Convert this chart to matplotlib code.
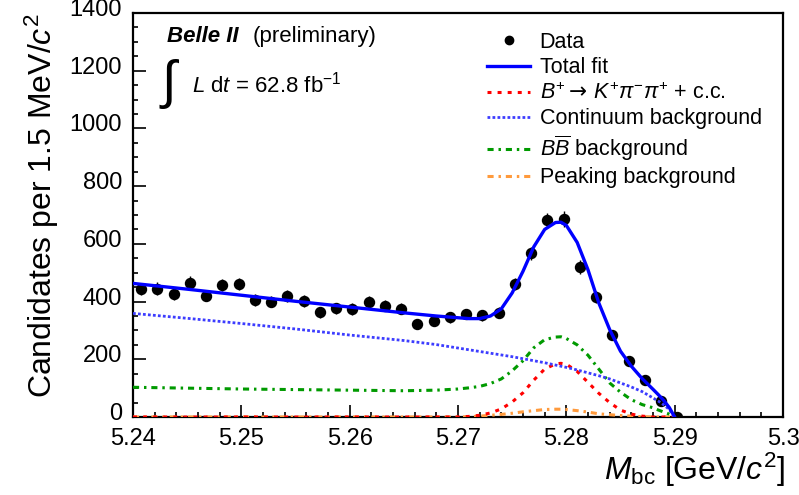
from __future__ import annotations

import numpy as np
import matplotlib

matplotlib.use("Agg")
import matplotlib.pyplot as plt
from matplotlib import transforms
from matplotlib.lines import Line2D
from matplotlib.ticker import FuncFormatter, MultipleLocator

# histogram: 1.5 MeV bins starting at 5.240 GeV
BIN_LO = 5.240
BIN_WIDTH = 0.0015
COUNTS = [443, 445, 425, 466, 421, 457, 460, 405, 400, 419, 402, 363, 377, 374,
          400, 386, 375, 323, 334, 346, 357, 353, 362, 460, 567, 682, 686, 520,
          417, 284, 194, 128, 55, 1]

# fit components
FIT_X = [5.240, 5.245, 5.250, 5.255, 5.260, 5.265, 5.268, 5.270, 5.271, 5.272,
         5.273, 5.274, 5.275, 5.276, 5.277, 5.278, 5.279, 5.2795, 5.280, 5.281,
         5.282, 5.283, 5.284, 5.285, 5.286, 5.287, 5.288, 5.2885, 5.289, 5.2895,
         5.290]
TOTAL_FIT = [463, 443, 422, 401, 381, 361, 350, 344, 341, 341,
             350, 375, 430, 505, 590, 650, 674, 675, 664, 605,
             510, 395, 303, 228, 176, 133, 96, 77, 57, 33,
             0]
CONTINUUM = [359, 342, 324, 305, 284, 265, 251, 239, 233, 227,
             221, 215, 209, 202, 195, 188, 180, 176, 172, 163,
             153, 143, 132, 118, 104, 88, 66, 55, 42, 26,
             0]
BBBAR = [103, 100, 97, 95, 93, 91, 93, 97, 101, 106,
         116, 132, 160, 195, 240, 268, 277, 278, 272, 250,
         214, 166, 118, 86, 60, 43, 32, 24, 17, 10,
         0]
SIGNAL = [0, 0, 0, 0, 0, 0, 0, 0, 2, 6,
          14, 28, 52, 84, 128, 166, 184, 186, 183, 158,
          120, 82, 50, 24, 10, 3, 0, 0, 0, 0,
          0]
PEAKING = [0, 0, 0, 0, 0, 0, 0, 0, 1, 3,
           6, 9, 13, 18, 22, 26, 27, 27, 26, 22,
           17, 11, 8, 5, 3, 1, 0, 0, 0, 0,
           0]

LEGEND_LABELS = [
    "Data",
    "Total fit",
    r"$B^{+}\mathtt{\rightarrow}\, K^{+}\pi^{-}\pi^{+}$ + c.c.",
    "Continuum background",
    r"$B\overline{B}$ background",
    "Peaking background",
]

W, H = 799, 495


def px(x: float, y: float) -> tuple[float, float]:
    # pixel (from top-left) -> figure fraction
    return x / W, 1 - y / H


def main() -> None:
    plt.rcParams["font.family"] = ["Liberation Sans", "DejaVu Sans"]
    plt.rcParams["mathtext.fontset"] = "custom"
    plt.rcParams["mathtext.rm"] = "Liberation Sans"
    plt.rcParams["mathtext.it"] = "Liberation Sans:italic"
    plt.rcParams["mathtext.bf"] = "Liberation Sans:bold"
    plt.rcParams["mathtext.sf"] = "Liberation Sans"
    plt.rcParams["mathtext.tt"] = "DejaVu Sans"

    fig = plt.figure(figsize=(W / 100, H / 100), dpi=100)
    ax = fig.add_axes([133 / W, 1 - 417 / H, (783 - 133) / W, (417 - 13) / H])

    counts = np.array(COUNTS, dtype=float)
    centers = BIN_LO + BIN_WIDTH * (np.arange(len(counts)) + 0.5)

    styles = {
        "total": dict(color="#0000ff", lw=2.4, ls="-"),
        "signal": dict(color="#ff0000", lw=2.2, ls=(0, (1.3, 2.0))),
        "cont": dict(color="#3c3cff", lw=2.0, ls=(0, (1.0, 0.8))),
        "bb": dict(color="#009a00", lw=2.2, ls=(0, (2.0, 1.6, 0.8, 1.6))),
        "peak": dict(color="#ff9a3c", lw=2.2, ls=(0, (2.0, 1.6, 0.8, 1.6))),
    }

    ax.errorbar(centers, counts, yerr=np.sqrt(counts), fmt="o", color="black",
                ms=7.2, elinewidth=1, capsize=0, zorder=2)
    ax.plot(FIT_X, PEAKING, zorder=3, **styles["peak"])
    ax.plot(FIT_X, SIGNAL, zorder=3, **styles["signal"])
    ax.plot(FIT_X, BBBAR, zorder=3, **styles["bb"])
    ax.plot(FIT_X, CONTINUUM, zorder=3, **styles["cont"])
    ax.plot(FIT_X, TOTAL_FIT, zorder=4, **styles["total"])

    ax.set_xlim(5.24, 5.30)
    ax.set_ylim(0, 1400)
    ax.xaxis.set_major_locator(MultipleLocator(0.01))
    ax.xaxis.set_minor_locator(MultipleLocator(0.002))
    ax.xaxis.set_major_formatter(FuncFormatter(lambda v, _: f"{v:.2f}".rstrip("0")))
    ax.yaxis.set_major_locator(MultipleLocator(200))
    ax.yaxis.set_minor_locator(MultipleLocator(50))
    ax.tick_params(which="both", direction="in", top=False, right=False,
                   labelsize=17, width=1.2)
    ax.tick_params(which="major", length=9)
    ax.tick_params(which="minor", length=3.5)
    ax.tick_params(axis="x", pad=8)
    ax.tick_params(axis="y", pad=8)
    for s in ax.spines.values():
        s.set_linewidth(1.6)

    shift = transforms.ScaledTranslation(0, 4 / 72, fig.dpi_scale_trans)
    for lbl in ax.get_yticklabels():
        lbl.set_transform(lbl.get_transform() + shift)

    fig.text(*px(42, 13), "Candidates per 1.5 MeV/$c^{2}$", rotation=90,
             ha="center", va="top", fontsize=23)
    fig.text(*px(785, 480), r"$M_{\rm bc}$ [GeV/$c^{2}$]", ha="right",
             va="baseline", fontsize=23)

    fig.text(*px(167, 42), "Belle II", fontsize=16, fontweight="bold",
             style="italic", va="baseline")
    fig.text(*px(253, 42), "(preliminary)", fontsize=16, va="baseline")
    fig.text(*px(170, 84), r"$\int$", fontsize=38, ha="center", va="center")
    fig.text(*px(192, 92), r"$L$ d$t$ = 62.8 fb$^{-1}$", fontsize=16,
             va="baseline")

    handles = [
        Line2D([], [], marker="o", ls="none", color="black", ms=6),
        Line2D([], [], **styles["total"]),
        Line2D([], [], **styles["signal"]),
        Line2D([], [], **styles["cont"]),
        Line2D([], [], **styles["bb"]),
        Line2D([], [], **styles["peak"]),
    ]
    ax.legend(handles, LEGEND_LABELS, loc="upper left",
              bbox_to_anchor=px(487, 32), bbox_transform=fig.transFigure,
              frameon=False, fontsize=15.5, handlelength=2.0,
              handletextpad=0.45, labelspacing=0.2, borderpad=0,
              borderaxespad=0)

    fig.savefig("out.png", dpi=100)
    plt.close(fig)


if __name__ == "__main__":
    main()
